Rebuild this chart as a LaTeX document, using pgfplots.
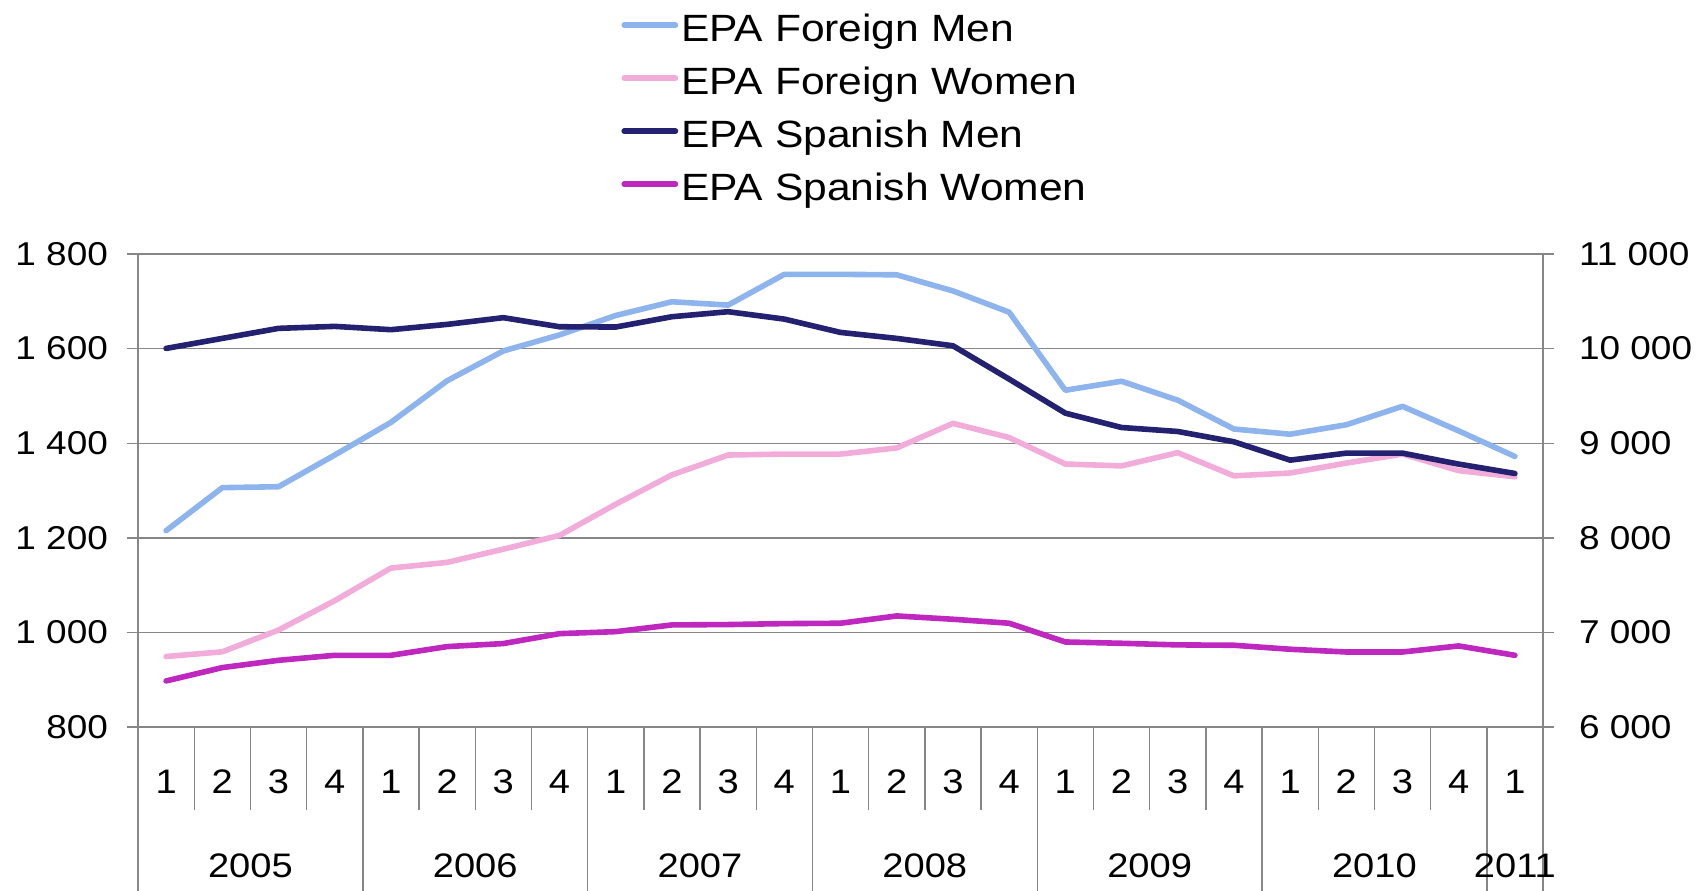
\documentclass[border=0pt]{standalone}
\usepackage{pgfplots}
\usepackage{pgfplotstable}
\pgfplotsset{compat=1.18}
\usepackage{fontspec}
\setmainfont{Liberation Sans}[FakeStretch=1.12]
\definecolor{fmen}{RGB}{141,180,236}
\definecolor{fwomen}{RGB}{242,172,217}
\definecolor{smen}{RGB}{35,33,112}
\definecolor{swomen}{RGB}{190,40,190}
\definecolor{axgray}{RGB}{134,134,134}

\pgfplotstableread{
i fmen fwomen smen swomen
0 1215 949 10002 6487
1 1306 959 10108 6628
2 1308 1005 10214 6705
3 1375 1067 10235 6758
4 1444 1136 10200 6758
5 1532 1148 10256 6850
6 1595 1176 10327 6882
7 1629 1205 10231 6987
8 1670 1271 10228 7008
9 1699 1333 10337 7079
10 1692 1375 10390 7083
11 1757 1377 10312 7093
12 1757 1377 10171 7097
13 1756 1390 10108 7174
14 1722 1442 10030 7139
15 1677 1412 9678 7097
16 1512 1356 9318 6899
17 1531 1352 9166 6885
18 1491 1380 9124 6868
19 1430 1331 9015 6864
20 1419 1337 8821 6822
21 1439 1358 8895 6793
22 1478 1377 8895 6793
23 1426 1342 8779 6857
24 1372 1329 8680 6758
}\datatable

\begin{document}
\begin{tikzpicture}
\path[use as bounding box] (-69pt,-81.5pt) rectangle (782pt,363.5pt);
\pgfplotsset{
  common/.style={
    width=702.5pt, height=236.5pt, scale only axis,
    at={(0,0)}, anchor=south west,
    xmin=-0.5, xmax=24.5, clip=false,
    scaled y ticks=false,
    tick label style={font=\fontsize{16.5}{20}\selectfont, text=black},
    tick align=outside,
    every tick/.style={axgray, line width=0.7pt},
    axis line style={axgray, line width=0.7pt},
  },
  dline/.style={line width=2.8pt, line join=round, line cap=round},
}
% left axis with grid
\begin{axis}[common,
  ymin=800, ymax=1800,
  ytick={800,1000,...,1800},
  yticklabels={800,1 000,1 200,1 400,1 600,1 800},
  yticklabel style={xshift=-6pt},
  ytick pos=left, major tick length=5.5pt,
  ymajorgrids, grid style={axgray, line width=0.7pt},
  xtick=\empty,
]
\addplot[dline, fmen] table[x=i, y=fmen] {\datatable};
\addplot[dline, fwomen] table[x=i, y=fwomen] {\datatable};
\end{axis}
% right axis
\begin{axis}[common,
  ymin=6000, ymax=11000,
  ytick={6000,7000,...,11000},
  yticklabels={6 000,7 000,8 000,9 000,10 000,11 000},
  yticklabel style={xshift=9pt},
  axis y line*=right, axis x line=none,
  major tick length=5.5pt,
  legend style={draw=none, fill=none, at={(0.3438,1.51)}, anchor=north west,
    inner sep=0pt, row sep=8.5pt, column sep=1.5pt,
    font=\fontsize{19}{23}\selectfont,
    nodes={inner sep=0pt, text height=14pt, text depth=4pt}},
  legend cell align=left,
  legend image code/.code={\draw[#1] (1.4pt,3pt) -- (27pt,3pt);},
]
\addlegendimage{dline, fmen}\addlegendentry{EPA Foreign Men}
\addlegendimage{dline, fwomen}\addlegendentry{EPA Foreign Women}
\addplot[dline, smen] table[x=i, y=smen] {\datatable};
\addlegendentry{EPA Spanish Men}
\addplot[dline, swomen] table[x=i, y=swomen] {\datatable};
\addlegendentry{EPA Spanish Women}
\end{axis}
% quarter level
\begin{axis}[common,
  ymin=0, ymax=1, hide y axis, axis x line*=bottom,
  xtick={0,...,24},
  xticklabels={1,2,3,4,1,2,3,4,1,2,3,4,1,2,3,4,1,2,3,4,1,2,3,4,1},
  major tick length=0pt,
  minor xtick={-0.5,0.5,...,24.5},
  minor tick length=41.5pt,
  xticklabel style={anchor=center, yshift=-27.5pt, font=\fontsize{17}{20}\selectfont},
]
\end{axis}
% year level
\begin{axis}[common,
  ymin=0, ymax=1, hide y axis, axis x line*=bottom,
  xtick={1.5,5.5,9.5,13.5,17.5,21.5,24},
  xticklabels={2005,2006,2007,2008,2009,2010,2011},
  major tick length=0pt,
  minor xtick={-0.5,3.5,7.5,11.5,15.5,19.5,23.5,24.5},
  minor tick length=95pt,
  xticklabel style={anchor=center, yshift=-69.5pt, font=\fontsize{17}{20}\selectfont},
]
\end{axis}
\end{tikzpicture}
\end{document}
